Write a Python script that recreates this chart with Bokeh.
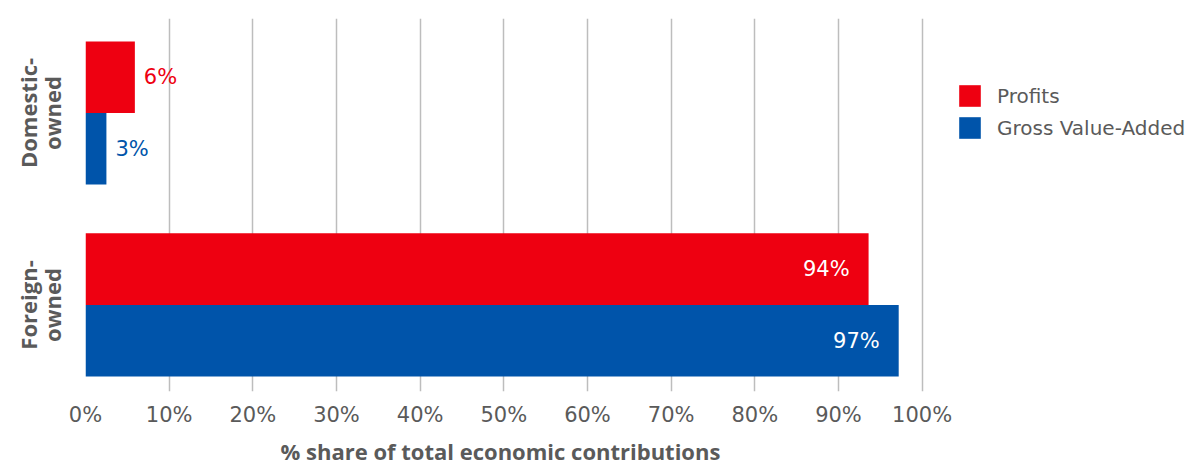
import math
from bokeh.plotting import figure
from bokeh.models import Range1d, FixedTicker, Label, Legend, LegendItem, ColumnDataSource, Title
from bokeh.embed import file_html
from bokeh.resources import INLINE

# ---- data ----
categories = ["Domestic-owned", "Foreign-owned"]
category_labels = ["Domestic-\nowned", "Foreign-\nowned"]
profits = [5.9, 93.6]
gva = [2.5, 97.2]
profits_labels = ["6%", "94%"]
gva_labels = ["3%", "97%"]
x_ticks = [0, 10, 20, 30, 40, 50, 60, 70, 80, 90, 100]
x_tick_labels = ["%d%%" % t for t in x_ticks]
series_names = ["Profits", "Gross Value-Added"]
x_title = "% share of total economic contributions"

RED = "#EE0011"
BLUE = "#0054AA"
GRAY = "#5a5a5a"
BOLD_FONT = "Open Sans"
LIGHT_FONT = "DejaVu Sans"

# category positions (top category highest)
n = len(categories)
cat_pos = [n - 1 - i for i in range(n)]
offset = 0.1865
bar_h = 0.373

y_start = -87 / 193
y_end = 1 + 95 / 193
x_end = (1189 - 85.3) / 8.364

p = figure(width=1189, height=469, output_backend="svg", toolbar_location=None,
           x_range=Range1d(0, x_end), y_range=Range1d(y_start, y_end),
           min_border_left=85, min_border_right=0, min_border_top=18, min_border_bottom=76)
p.outline_line_color = None
p.background_fill_color = "white"

src_p = ColumnDataSource(dict(y=[c + offset for c in cat_pos], v=profits, lab=profits_labels))
src_g = ColumnDataSource(dict(y=[c - offset for c in cat_pos], v=gva, lab=gva_labels))

r1 = p.hbar(y="y", right="v", left=0, height=bar_h, source=src_p, fill_color=RED, line_color=None)
r2 = p.hbar(y="y", right="v", left=0, height=bar_h, source=src_g, fill_color=BLUE, line_color=None)

# value labels
for src, vals, labs, col in [(src_p, profits, profits_labels, RED), (src_g, gva, gva_labels, BLUE)]:
    ys = src.data["y"]
    for v, lab, y in zip(vals, labs, ys):
        inside = v > 50
        p.add_layout(Label(x=v, y=y, text=lab, x_offset=(-19 if inside else 9),
                           text_align=("right" if inside else "left"), text_baseline="middle",
                           text_color=("white" if inside else col), text_font=LIGHT_FONT,
                           text_font_size="21px"))

# x axis
xa = p.xaxis[0]
xa.ticker = FixedTicker(ticks=x_ticks)
xa.major_label_overrides = {t: l for t, l in zip(x_ticks, x_tick_labels)}
xa.axis_line_color = None
xa.major_tick_line_color = None
xa.minor_tick_line_color = None
xa.major_tick_in = 0
xa.major_tick_out = 0
xa.major_label_standoff = 11
xa.major_label_text_font = LIGHT_FONT
xa.major_label_text_font_size = "21px"
xa.major_label_text_color = GRAY

# y axis
ya = p.yaxis[0]
ya.ticker = FixedTicker(ticks=cat_pos)
ya.major_label_overrides = {c: l for c, l in zip(cat_pos, category_labels)}
ya.major_label_orientation = "vertical"
ya.axis_line_color = None
ya.major_tick_line_color = None
ya.minor_tick_line_color = None
ya.major_tick_in = 0
ya.major_tick_out = 0
ya.major_label_standoff = 18
ya.major_label_text_font = BOLD_FONT
ya.major_label_text_font_size = "22px"
ya.major_label_text_font_style = "bold"
ya.major_label_text_color = GRAY
ya.major_label_text_line_height = 0.8

p.xgrid.ticker = FixedTicker(ticks=x_ticks)
p.xgrid.grid_line_color = "#bdbdbd"
p.xgrid.grid_line_width = 1.5
p.ygrid.grid_line_color = None

# axis title (below)
p.add_layout(Title(text=x_title, align="left", offset=195,
                   text_font=BOLD_FONT, text_font_size="22px", text_font_style="bold",
                   text_color=GRAY, standoff=8, text_line_height=0.9), "below")

legend = Legend(items=[LegendItem(label=series_names[0], renderers=[r1]),
                       LegendItem(label=series_names[1], renderers=[r2])],
                location=(871, 250), orientation="vertical")
legend.padding = 0
legend.margin = 0
legend.border_line_color = None
legend.background_fill_alpha = 0
legend.glyph_width = 27
legend.glyph_height = 27
legend.label_standoff = 14
legend.spacing = 5
legend.label_text_font = LIGHT_FONT
legend.label_text_font_size = "20px"
legend.label_text_color = GRAY
p.add_layout(legend)

open("out.html", "w").write(file_html(p, INLINE))
